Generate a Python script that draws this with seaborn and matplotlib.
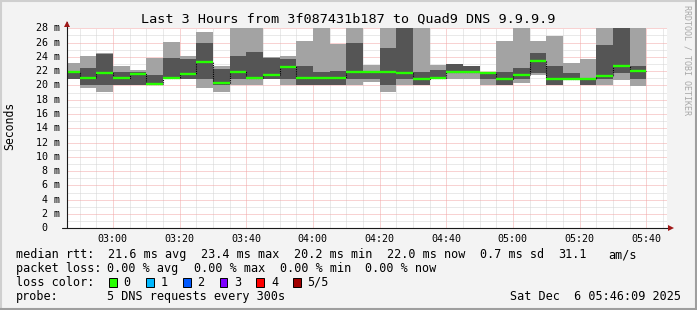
import numpy as np
import pandas as pd
import matplotlib
matplotlib.use("Agg")
import matplotlib.pyplot as plt
import seaborn as sns
from matplotlib.patches import Rectangle
from matplotlib.lines import Line2D

# ---------------- data (ms); x = minutes after 02:45 ----------------
bin_start = [0, 5, 10, 15, 20, 25, 30, 35, 40, 45, 50, 55, 60, 65, 70, 75, 80, 85,
             90, 95, 100, 105, 110, 115, 120, 125, 130, 135, 140, 145, 150, 155, 160, 165, 170]
rtt_min = [20.85, 19.7, 19.1, 20.0, 20.0, 20.0, 20.85, 20.85, 19.7, 19.1, 20.0, 20.1,
           20.85, 20.0, 20.0, 20.0, 20.0, 20.1, 20.5, 19.1, 20.0, 20.1, 20.85, 20.85,
           20.85, 20.05, 20.1, 20.4, 21.5, 20.1, 20.9, 20.05, 20.0, 20.7, 19.9]
rtt_p2 = [20.9, 20.0, 20.0, 20.0, 20.0, 20.0, 20.85, 20.9, 20.9, 20.1, 20.9, 20.9,
          20.9, 20.9, 20.0, 20.0, 20.1, 20.95, 20.85, 20.1, 20.9, 20.1, 20.85, 21.7,
          21.7, 20.85, 20.1, 20.85, 21.8, 20.1, 20.9, 20.05, 20.85, 21.8, 20.95]
rtt_median = [21.85, 21.1, 21.8, 21.1, 21.55, 20.2, 21.0, 21.55, 23.25, 20.4, 21.85, 21.0,
              21.4, 22.55, 21.0, 21.0, 21.1, 21.9, 21.9, 21.9, 21.75, 20.95, 21.1, 21.9,
              21.9, 21.75, 20.95, 21.5, 23.4, 20.95, 20.95, 20.95, 21.35, 22.75, 22.0]
rtt_p4 = [22.0, 22.45, 24.35, 21.95, 21.9, 21.5, 23.8, 23.75, 26.0, 22.3, 24.15, 24.7,
          23.85, 23.75, 22.75, 21.85, 22.05, 26.0, 22.05, 25.25, 29.0, 21.9, 22.15, 22.95,
          22.7, 21.8, 21.9, 22.45, 24.55, 22.75, 21.8, 21.0, 25.7, 29.0, 22.75]
rtt_max = [23.2, 24.15, 24.6, 22.75, 22.15, 23.8, 26.1, 24.1, 27.5, 22.75, 29.0, 29.0,
           24.0, 24.15, 26.25, 29.0, 25.75, 29.0, 22.8, 29.0, 29.5, 29.0, 22.9, 22.95,
           22.75, 21.9, 26.25, 29.0, 26.25, 26.9, 23.2, 23.75, 29.0, 29.5, 29.0]
y_tick_values = list(range(0, 29, 2))
x_major_ticks = [15, 35, 55, 75, 95, 115, 135, 155, 175]
x_tick_labels = ["03:00", "03:20", "03:40", "04:00", "04:20", "04:40", "05:00", "05:20", "05:40"]
loss_labels = ["0", "1", "2", "3", "4", "5/5"]
loss_colors = ["#26ff00", "#00b8ff", "#0059ff", "#7e00ff", "#ff0000", "#a00000"]

# ---------------- style ----------------
sns.set_theme(style="white")
plt.rcParams["font.family"] = ["DejaVu Sans Mono", "DejaVu Sans"]
MONO = ["DejaVu Sans Mono", "DejaVu Sans"]

W, H = 697, 310
fig = plt.figure(figsize=(W / 100, H / 100), dpi=100, facecolor="#f3f3f3")

L, R, T, B = 66.7, 666.7, 28.3, 228.3
ax = fig.add_axes([L / W, 1 - B / H, (R - L) / W, (B - T) / H])
ax.set_facecolor("white")
ax.set_xlim(1.15, 181.15)
ax.set_ylim(0, 28)

# grid
ax.set_xticks(x_major_ticks)
ax.set_xticks(np.arange(5, 181, 5), minor=True)
ax.set_yticks(y_tick_values)
ax.set_yticks(np.arange(1, 28, 1), minor=True)
ax.grid(which="minor", color="#d4d4d4", linestyle=(0, (1, 1)), linewidth=0.72)
ax.grid(which="major", color="#f2a6a6", linestyle=(0, (1, 1)), linewidth=0.72)
ax.set_axisbelow(True)
for s in ax.spines.values():
    s.set_visible(False)

ax.set_xticklabels(x_tick_labels)
ax.tick_params(axis="x", which="major", length=2.2, width=0.72, color="#f2a0a0",
               pad=2.2, labelsize=7.2, labelcolor="black")
ax.tick_params(axis="y", which="major", length=2.5, width=0.72, color="#f2a0a0",
               labelleft=False)
ax.tick_params(which="minor", length=0)
for lab in ax.get_xticklabels():
    lab.set_family(MONO)

# y tick labels (left aligned column, rrdtool style)
ytr = ax.get_yaxis_transform()
for v in y_tick_values:
    txt = "%2d m" % v if v else " 0"
    ax.text((36 - L) / (R - L), v, txt, transform=ytr, ha="left", va="center",
            fontsize=7.2, family=MONO, color="black", clip_on=False)

# smoke
bs = np.array(bin_start, dtype=float)
mn, p2, md, p4, mx = map(np.array, (rtt_min, rtt_p2, rtt_median, rtt_p4, rtt_max))
ax.bar(bs, mx - mn, bottom=mn, width=5, align="edge", color="#a3a3a3", linewidth=0, zorder=2)
ax.bar(bs, p4 - p2, bottom=p2, width=5, align="edge", color="#555555", linewidth=0, zorder=3)

# median step (dotted) + loss colored median
step_df = pd.DataFrame({"t": list(bs) + [bs[-1] + 5], "ms": list(md) + [md[-1]]})
sns.lineplot(data=step_df, x="t", y="ms", ax=ax, drawstyle="steps-post", color="black",
             linestyle=(0, (1, 1)), linewidth=0.8, sort=False, estimator=None, zorder=4)
ax.hlines(md, bs, bs + 5, colors=loss_colors[0], linewidth=1.7, zorder=5, capstyle="butt")
ax.set_xlabel("")
ax.set_ylabel("")

# axis lines and arrows
axis_col = "#1a1a1a"
ax.add_line(Line2D([(62 - L) / (R - L), (670 - L) / (R - L)], [0, 0], transform=ax.transAxes,
                   color=axis_col, lw=0.8, clip_on=False, zorder=6))
ax.add_line(Line2D([0, 0], [0, (B - 22) / (B - T)], transform=ax.transAxes,
                   color=axis_col, lw=0.8, clip_on=False, zorder=6))
ax.plot([0], [(B - 24) / (B - T)], marker="^", ms=4, color="#a01818", transform=ax.transAxes,
        clip_on=False, zorder=7, markeredgewidth=0)
ax.plot([(671 - L) / (R - L)], [0], marker=">", ms=4, color="#a01818", transform=ax.transAxes,
        clip_on=False, zorder=7, markeredgewidth=0)

# titles
fig.text(348.5 / W, 1 - 19 / H, "Last 3 Hours from 3f087431b187 to Quad9 DNS 9.9.9.9",
         ha="center", va="center", fontsize=9.7, family=MONO, color="black")
fig.text(10 / W, 1 - 126 / H, "Seconds", rotation=90, ha="center", va="center",
         fontsize=8.3, family=MONO, color="black")
fig.text(686.5 / W, 1 - 60 / H, "RRDTOOL / TOBI OETIKER", rotation=270, ha="center",
         va="center", fontsize=6, family=MONO, color="#a8a8a8")

# legend lines
def ftext(x, y, s, ha="left"):
    fig.text(x / W, 1 - y / H, s, ha=ha, va="center", fontsize=8.5, family=MONO, color="black")

r1, r2, r3, r4 = 254.7, 268.3, 282.3, 296.5
row1 = [(16, "median rtt:"), (108, "21.6 ms avg"), (201, "23.4 ms max"), (294, "20.2 ms min"),
        (387, "22.0 ms now"), (480, "0.7 ms sd"), (558, "31.1"), (608, "am/s")]
row2 = [(16, "packet loss:"), (107, "0.00 % avg"), (194, "0.00 % max"), (280, "0.00 % min"),
        (365, "0.00 % now")]
for x, s in row1:
    ftext(x, r1, s)
for x, s in row2:
    ftext(x, r2, s)
ftext(16, r3, "loss color:")
box_x = [109, 146, 183, 219.5, 256.4, 293]
for bx, lab, col in zip(box_x, loss_labels, loss_colors):
    fig.add_artist(Rectangle((bx / W, 1 - (r3 + 4.2) / H), 7.5 / W, 8.4 / H,
                             transform=fig.transFigure, facecolor=col, edgecolor="black",
                             linewidth=0.7))
    ftext(bx + 14.5, r3, lab)
ftext(16, r4, "probe:")
ftext(107, r4, "5 DNS requests every 300s")
ftext(681, r4, "Sat Dec  6 05:46:09 2025", ha="right")

# frame shading
fig.add_artist(Line2D([0, 1], [1 - 1 / H, 1 - 1 / H], transform=fig.transFigure, color="#cfcfcf", lw=1.5))
fig.add_artist(Line2D([1 / W, 1 / W], [0, 1], transform=fig.transFigure, color="#cfcfcf", lw=1.5))
fig.add_artist(Line2D([0, 1], [1 / H, 1 / H], transform=fig.transFigure, color="#9e9e9e", lw=1.5))
fig.add_artist(Line2D([1 - 1 / W, 1 - 1 / W], [0, 1], transform=fig.transFigure, color="#9e9e9e", lw=1.5))

fig.savefig("out.png", dpi=100, facecolor=fig.get_facecolor())
